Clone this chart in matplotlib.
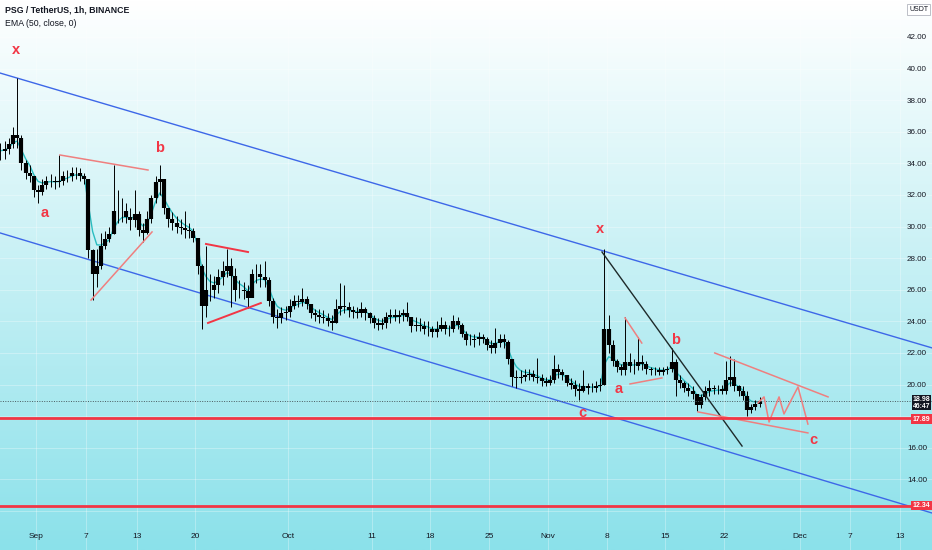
import matplotlib.pyplot as plt
import matplotlib.transforms as mtransforms
from matplotlib.colors import LinearSegmentedColormap
import numpy as np
import pandas as pd

plt.rcParams['font.family'] = ['Liberation Sans', 'DejaVu Sans']

# x axis is measured in days from 1 Sep 2021
start = pd.Timestamp('2021-09-01')
bar_times = pd.date_range('2021-08-27 18:00', periods=182, freq='12h')

high = [35.3, 35.4, 35.6, 36.3, 39.4, 35.8, 34.2, 33.9, 33.2, 32.6,
        33.0, 33.2, 33.3, 33.2, 34.5, 33.5, 33.6, 33.8, 33.8, 33.7,
        33.4, 33.0, 28.6, 28.6, 29.6, 29.7, 30.0, 33.9, 32.3, 31.8,
        31.5, 31.2, 32.3, 31.0, 30.2, 31.0, 32.0, 33.2, 33.9, 33.0,
        31.2, 30.9, 30.7, 30.5, 31.0, 30.2, 29.9, 29.3, 27.6, 28.8,
        27.0, 26.9, 27.3, 27.8, 28.6, 28.0, 27.4, 26.6, 26.5, 26.3,
        27.3, 27.6, 27.6, 27.8, 26.8, 25.5, 24.8, 24.9, 25.0, 25.4,
        25.7, 25.7, 26.1, 25.6, 25.1, 24.8, 24.8, 24.7, 24.5, 24.4,
        25.4, 26.4, 26.3, 25.2, 25.0, 24.9, 25.2, 24.9, 24.6, 24.4,
        24.2, 24.2, 24.6, 24.8, 24.8, 24.7, 24.8, 25.2, 24.3, 24.3,
        24.2, 24.0, 24.0, 23.7, 24.0, 24.3, 24.0, 23.8, 24.4, 24.3,
        23.9, 23.4, 23.2, 23.2, 23.3, 23.2, 23.0, 22.8, 23.6, 23.2,
        23.2, 22.8, 21.6, 20.9, 20.9, 21.0, 21.0, 20.9, 21.7, 20.7,
        20.5, 20.6, 21.9, 21.3, 21.0, 20.6, 20.4, 20.3, 20.1, 20.9,
        20.1, 20.1, 20.2, 20.4, 28.6, 24.4, 22.8, 21.6, 21.3, 24.3,
        22.0, 21.6, 23.0, 21.9, 21.5, 21.1, 21.1, 21.1, 21.1, 21.2,
        22.3, 21.6, 20.6, 20.2, 20.1, 19.9, 19.4, 19.4, 19.9, 20.3,
        20.0, 20.0, 20.0, 21.5, 21.8, 21.6, 20.0, 19.9, 19.6, 18.8,
        19.0, 19.2]
low = [34.2, 34.3, 34.6, 35.0, 35.0, 33.6, 33.0, 32.8, 31.9, 31.5,
       32.0, 32.4, 32.5, 32.4, 32.5, 32.6, 32.8, 32.9, 33.0, 32.9,
       32.7, 28.0, 25.35, 26.2, 27.3, 28.6, 29.0, 29.5, 30.2, 30.3,
       30.2, 29.8, 30.0, 29.4, 29.0, 29.5, 30.2, 31.5, 32.0, 30.8,
       30.0, 29.8, 29.6, 29.5, 29.3, 29.3, 29.0, 27.0, 23.5, 24.3,
       25.3, 25.5, 25.8, 26.3, 26.8, 24.9, 25.3, 25.5, 25.4, 24.85,
       25.6, 26.4, 26.2, 26.2, 25.0, 23.9, 23.6, 23.9, 24.1, 24.3,
       24.8, 24.9, 25.0, 24.8, 24.2, 24.0, 23.9, 23.9, 23.7, 23.45,
       23.9, 24.4, 24.5, 24.3, 24.2, 24.2, 24.3, 24.1, 23.9, 23.6,
       23.45, 23.5, 23.6, 23.9, 24.0, 23.9, 24.0, 24.0, 23.3, 23.4,
       23.4, 23.2, 23.1, 23.0, 23.0, 23.4, 23.2, 23.1, 23.3, 23.5,
       23.0, 22.5, 22.5, 22.4, 22.5, 22.6, 22.2, 22.0, 22.0, 22.4,
       22.3, 21.3, 19.9, 19.8, 20.1, 20.2, 20.3, 20.2, 20.1, 19.9,
       19.9, 20.0, 20.1, 20.4, 20.3, 19.9, 19.7, 19.3, 19.0, 19.5,
       19.4, 19.5, 19.5, 19.6, 20.0, 22.0, 21.2, 20.8, 20.6, 20.6,
       20.8, 20.7, 20.9, 20.9, 20.7, 20.6, 20.6, 20.6, 20.6, 20.7,
       20.8, 19.3, 19.8, 19.5, 19.3, 19.1, 18.3, 18.5, 19.0, 19.3,
       19.4, 19.4, 19.4, 19.4, 19.9, 19.6, 19.3, 19.0, 18.0, 18.2,
       18.4, 18.6]
close = [34.8, 34.9, 35.2, 35.8, 35.6, 34.0, 33.4, 33.2, 32.3, 32.2,
         32.6, 32.9, 32.9, 32.8, 32.9, 33.2, 33.2, 33.4, 33.4, 33.2,
         33.0, 28.5, 27.0, 27.5, 28.8, 29.2, 29.5, 31.0, 31.0, 31.0,
         30.6, 30.4, 30.8, 29.8, 29.6, 30.5, 31.8, 32.8, 33.0, 31.2,
         30.5, 30.2, 30.0, 29.9, 29.8, 29.7, 29.3, 27.5, 25.0, 26.0,
         26.0, 26.3, 26.8, 27.2, 27.5, 26.9, 26.0, 26.0, 25.9, 25.5,
         27.0, 27.0, 26.8, 26.6, 25.3, 24.3, 24.2, 24.5, 24.6, 25.0,
         25.3, 25.2, 25.4, 25.1, 24.5, 24.4, 24.3, 24.2, 24.0, 23.9,
         24.8, 25.0, 24.9, 24.7, 24.6, 24.5, 24.8, 24.5, 24.2, 23.9,
         23.8, 23.9, 24.3, 24.4, 24.3, 24.4, 24.5, 24.3, 23.7, 23.8,
         23.7, 23.5, 23.5, 23.3, 23.5, 23.8, 23.5, 23.5, 24.0, 23.8,
         23.2, 22.8, 22.8, 22.9, 23.0, 22.9, 22.5, 22.3, 22.6, 22.9,
         22.7, 21.6, 20.5, 20.4, 20.5, 20.6, 20.7, 20.5, 20.4, 20.2,
         20.1, 20.3, 21.0, 20.8, 20.6, 20.1, 20.0, 19.7, 19.6, 19.9,
         19.8, 19.8, 19.9, 20.0, 23.5, 22.5, 21.5, 21.1, 20.9, 21.4,
         21.2, 21.2, 21.4, 21.3, 21.0, 20.9, 20.9, 20.8, 20.9, 21.0,
         21.4, 20.3, 20.1, 19.8, 19.6, 19.4, 18.7, 19.2, 19.6, 19.8,
         19.7, 19.7, 19.6, 20.3, 20.5, 19.9, 19.6, 19.3, 18.4, 18.6,
         18.8, 18.98]

last_price = 18.98
countdown = '46:47'
support_1 = 17.89
support_2 = 12.34

price_ticks = [12, 14, 16, 18, 20, 22, 24, 26, 28, 30, 32, 34, 36, 38, 40, 42]
# 12.00 and 18.00 sit under the price badges
hidden_ticks = [12, 18]
tick_dates = ['2021-09-01', '2021-09-07', '2021-09-13', '2021-09-20', '2021-10-01',
              '2021-10-11', '2021-10-18', '2021-10-25', '2021-11-01', '2021-11-08',
              '2021-11-15', '2021-11-22', '2021-12-01', '2021-12-07', '2021-12-13']
tick_labels = ['Sep', '7', '13', '20', 'Oct', '11', '18', '25', 'Nov', '8',
               '15', '22', 'Dec', '7', '13']

# drawings (day, price)
upper_channel = ([-4.3, 106.8], [39.72, 22.32])
lower_channel = ([-4.3, 106.8], [29.6, 11.87])
tri1_top = ([2.86, 13.35], [34.53, 33.58])
tri1_bottom = ([6.56, 13.83], [25.35, 29.66])
tri2_top = ([20.26, 25.27], [28.9, 28.39])
tri2_bottom = ([20.5, 26.8], [23.9, 25.16])
trend_black = ([67.46, 84.15], [28.39, 16.11])
flag_top = ([70.2, 72.2], [24.22, 22.63])
flag_bottom = ([70.8, 74.6], [20.04, 20.42])
wedge_top = ([80.9, 94.4], [22.0, 19.22])
wedge_bottom = ([78.9, 92.0], [18.27, 16.94])
zigzag = ([86.05, 86.77, 87.37, 88.56, 89.15, 90.82, 92.0],
          [18.84, 19.22, 17.63, 19.22, 18.14, 19.85, 17.5])
wave_labels = [('x', -2.38, 41.18), ('a', 1.07, 30.86), ('b', 14.78, 34.97),
               ('x', 67.2, 29.85), ('b', 76.2, 22.8), ('a', 69.5, 19.72),
               ('c', 65.1, 18.2), ('c', 92.6, 16.5)]

t = np.array((bar_times - start) / pd.Timedelta(days=1))
opens = [close[0]] + close[:-1]
ema = pd.Series(close).ewm(span=4.2, adjust=False).mean()

fig = plt.figure(figsize=(9.32, 5.5), dpi=100)
ax = fig.add_axes([0, 0, 1, 1])
xmin, xmax = -4.29, 106.79
ymin, ymax = 9.53, 44.34

bg = LinearSegmentedColormap.from_list('bg', ['#ffffff', '#8be1ea'])
ax.imshow(np.linspace(0, 1, 256).reshape(-1, 1), cmap=bg, aspect='auto',
          extent=[xmin, xmax, ymin, ymax], zorder=0)

red = '#f23645'
soft_red = '#ef7f7f'
blue = '#3d67e8'

ax.plot(*upper_channel, color=blue, lw=1.0, zorder=2)
ax.plot(*lower_channel, color=blue, lw=1.0, zorder=2)

ax.plot(t, ema, color='#2bbdc0', lw=1.0, zorder=2.5)
ax.vlines(t, low, high, color='black', lw=0.7, zorder=3)
ax.vlines(t, np.minimum(opens, close), np.maximum(opens, close), color='black', lw=3.0, zorder=3)

ax.plot(*tri1_top, color=soft_red, lw=1.1, zorder=5)
ax.plot(*tri1_bottom, color=soft_red, lw=1.1, zorder=5)
ax.plot(*tri2_top, color=red, lw=1.4, zorder=5)
ax.plot(*tri2_bottom, color=red, lw=1.4, zorder=5)
ax.plot(*trend_black, color='#1e2a2a', lw=1.0, zorder=5)
ax.plot(*flag_top, color=soft_red, lw=1.1, zorder=5)
ax.plot(*flag_bottom, color=soft_red, lw=1.1, zorder=5)
ax.plot(*wedge_top, color=soft_red, lw=1.1, zorder=5)
ax.plot(*wedge_bottom, color=soft_red, lw=1.1, zorder=5)
ax.plot(*zigzag, color=soft_red, lw=1.1, zorder=5)

ax.axhline(last_price, color='#4a5a60', lw=0.7, ls=(0, (1, 1.5)), zorder=4)
ax.axhline(support_1, color=red, lw=2.0, zorder=5)
ax.axhline(support_2, color=red, lw=2.0, zorder=5)

for txt, x, y in wave_labels:
    ax.text(x, y, txt, color=red, fontsize=10.5, fontweight='bold',
            ha='center', va='center', zorder=6)

ax.set_xlim(xmin, xmax)
ax.set_ylim(ymin, ymax)
tick_x = [(pd.Timestamp(d) - start) / pd.Timedelta(days=1) for d in tick_dates]
ax.set_xticks(tick_x)
ax.set_xticklabels(tick_labels)
ax.set_yticks(price_ticks)
ax.set_yticklabels(['' if p in hidden_ticks else '%.2f' % p for p in price_ticks])
ax.yaxis.tick_right()
ax.tick_params(axis='x', direction='in', length=0, pad=-12, labelsize=6, labelcolor='#131722')
ax.tick_params(axis='y', direction='in', length=0, pad=-18, labelsize=5.8, labelcolor='#131722')
ax.grid(color='white', alpha=0.35, lw=0.6)
for s in ax.spines.values():
    s.set_visible(False)

# price scale badges
tr = mtransforms.blended_transform_factory(ax.transAxes, ax.transData)
ax.text(0.998, last_price - 0.12, '%.2f\n%s' % (last_price, countdown), transform=tr,
        ha='right', va='center', fontsize=5.0, color='white', fontweight='bold',
        linespacing=1.0, zorder=7,
        bbox=dict(boxstyle='square,pad=0.12', fc='#131722', ec='none'))
ax.text(0.998, support_1 - 0.08, '%.2f' % support_1, transform=tr, ha='right', va='center',
        fontsize=5.0, color='white', fontweight='bold', zorder=7,
        bbox=dict(boxstyle='square,pad=0.2', fc=red, ec='none'))
ax.text(0.998, support_2, '%.2f' % support_2, transform=tr, ha='right', va='center',
        fontsize=5.0, color='white', fontweight='bold', zorder=7,
        bbox=dict(boxstyle='square,pad=0.2', fc=red, ec='none'))
ax.text(0.996, 0.983, 'USDT', transform=ax.transAxes, ha='right', va='center',
        fontsize=5, color='#131722', zorder=7,
        bbox=dict(boxstyle='square,pad=0.3', fc='white', ec='#b2b5be', lw=0.6))

ax.text(0.005, 0.982, 'PSG / TetherUS, 1h, BINANCE', transform=ax.transAxes,
        fontsize=6.3, fontweight='bold', color='#131722', va='center', zorder=7)
ax.text(0.005, 0.958, 'EMA (50, close, 0)', transform=ax.transAxes,
        fontsize=6.3, color='#131722', va='center', zorder=7)

fig.savefig('out.png', dpi=100)
